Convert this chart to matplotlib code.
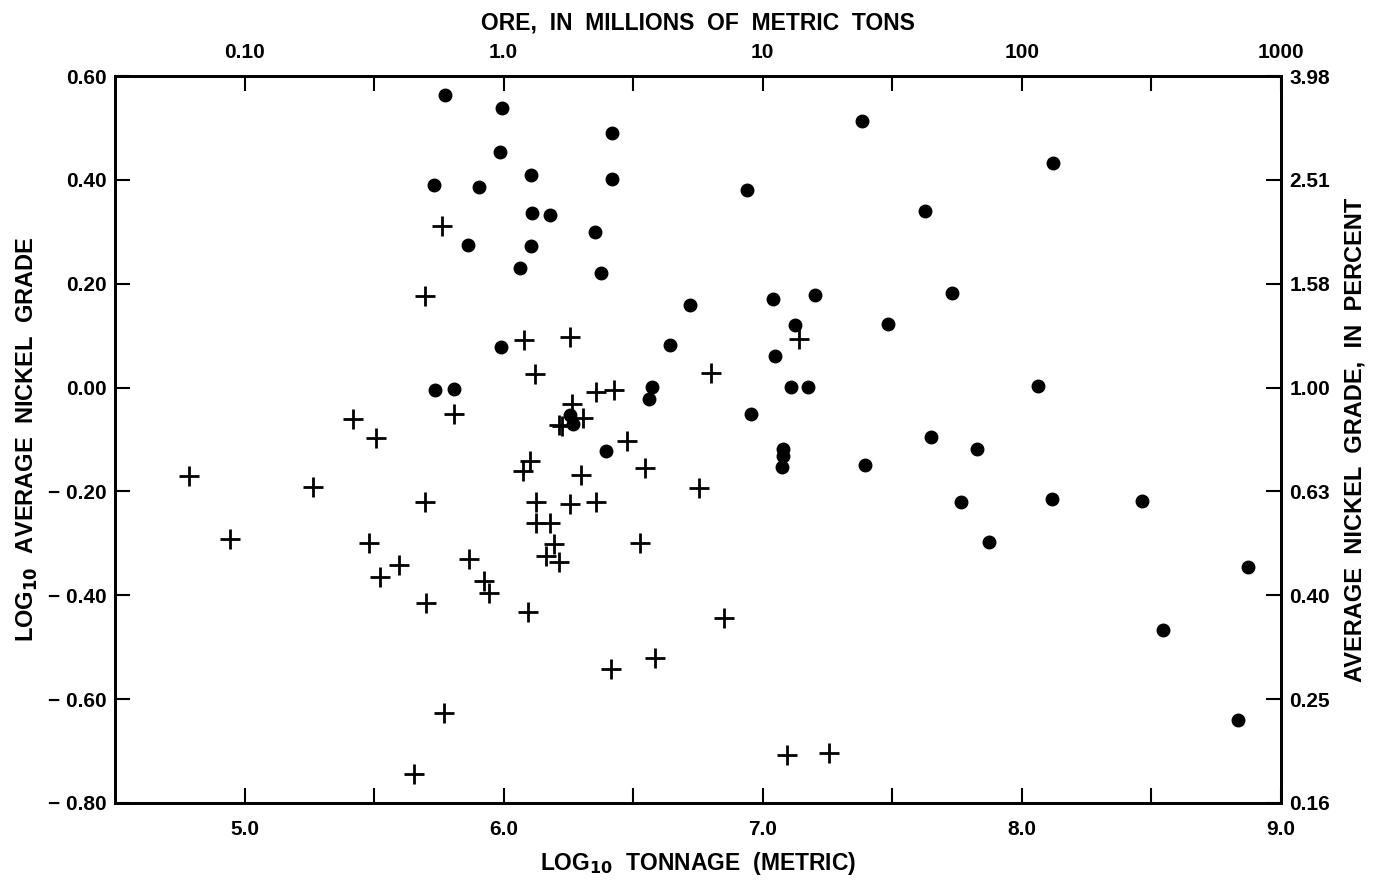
import numpy as np
import matplotlib
matplotlib.use("Agg")
import matplotlib.pyplot as plt
from matplotlib.ticker import FixedLocator, FixedFormatter

FONT = ["Liberation Sans Narrow", "Liberation Sans", "DejaVu Sans"]
plt.rcParams["font.family"] = FONT
plt.rcParams["font.weight"] = "bold"
plt.rcParams["mathtext.fontset"] = "custom"
plt.rcParams["mathtext.rm"] = "Liberation Sans Narrow:bold"
plt.rcParams["mathtext.default"] = "rm"

# deposits shown as dots (log10 tonnage, log10 grade)
dot_tonnage = [5.775, 5.995, 6.417, 5.987, 6.107, 6.417, 5.730, 5.905, 6.108, 6.180,
               6.353, 5.862, 6.107, 6.064, 6.377, 5.991, 5.736, 5.807, 6.258, 6.268,
               6.396, 6.719, 6.641, 6.571, 6.560, 7.040, 7.202, 7.124, 7.049, 7.110,
               7.176, 6.956, 7.079, 7.079, 7.075, 6.938, 7.385, 8.121, 7.626, 7.732,
               7.484, 8.062, 7.651, 7.826, 7.393, 7.767, 8.117, 7.873, 8.463, 8.873,
               8.544, 8.834]
dot_grade = [0.563, 0.539, 0.490, 0.453, 0.409, 0.402, 0.390, 0.387, 0.337, 0.333,
             0.299, 0.274, 0.273, 0.230, 0.220, 0.079, -0.004, -0.002, -0.053, -0.070,
             -0.122, 0.159, 0.082, 0.001, -0.021, 0.171, 0.179, 0.121, 0.060, 0.001,
             0.001, -0.051, -0.118, -0.131, -0.153, 0.381, 0.514, 0.432, 0.340, 0.182,
             0.123, 0.004, -0.096, -0.118, -0.149, -0.220, -0.215, -0.297, -0.218, -0.346,
             -0.467, -0.640]

# deposits shown as crosses
cross_tonnage = [5.761, 5.698, 6.078, 6.258, 6.122, 6.355, 6.426, 5.808, 6.264, 6.308,
                 6.214, 6.227, 6.478, 6.100, 6.074, 6.299, 5.698, 6.126, 6.258, 6.355,
                 6.126, 6.180, 6.544, 5.418, 5.508, 4.785, 5.263, 4.945, 5.480, 5.596,
                 5.524, 6.195, 6.164, 6.214, 6.525, 5.865, 5.923, 5.942, 5.701, 6.094,
                 6.584, 6.416, 5.770, 5.653, 7.140, 6.799, 6.754, 6.849, 7.094, 7.255]
cross_grade = [0.312, 0.177, 0.091, 0.098, 0.026, -0.008, -0.004, -0.051, -0.031, -0.059,
               -0.072, -0.074, -0.102, -0.141, -0.160, -0.168, -0.221, -0.220, -0.224, -0.221,
               -0.261, -0.261, -0.154, -0.060, -0.098, -0.171, -0.191, -0.291, -0.300, -0.342,
               -0.365, -0.302, -0.324, -0.335, -0.300, -0.331, -0.372, -0.395, -0.414, -0.433,
               -0.520, -0.542, -0.627, -0.744, 0.093, 0.029, -0.194, -0.443, -0.708, -0.704]

x_ticks = [5.0, 6.0, 7.0, 8.0, 9.0]
x_labels = ["5.0", "6.0", "7.0", "8.0", "9.0"]
x_minor = [5.5, 6.5, 7.5, 8.5]
top_labels = ["0.10", "1.0", "10", "100", "1000"]
y_ticks = [0.6, 0.4, 0.2, 0.0, -0.2, -0.4, -0.6, -0.8]
y_labels = ["0.60", "0.40", "0.20", "0.00", "\u2212 0.20", "\u2212 0.40", "\u2212 0.60", "\u2212 0.80"]
right_labels = ["3.98", "2.51", "1.58", "1.00", "0.63", "0.40", "0.25", "0.16"]

fig = plt.figure(figsize=(13.75, 8.85), dpi=100)
ax = fig.add_axes([0.0836, 0.0927, 0.848, 0.8213])

ax.plot(dot_tonnage, dot_grade, "o", color="black", ms=9, mec="black", ls="none")
ax.plot(cross_tonnage, cross_grade, "+", color="black", ms=14, mew=2.0, ls="none")

ax.set_xlim(4.5, 9.0)
ax.set_ylim(-0.8, 0.6)

tick_kw = dict(direction="in", length=11, width=1.5, labelsize=15, colors="black")
ax.xaxis.set_major_locator(FixedLocator(x_ticks))
ax.xaxis.set_major_formatter(FixedFormatter(x_labels))
ax.xaxis.set_minor_locator(FixedLocator(x_minor))
ax.yaxis.set_major_locator(FixedLocator(y_ticks))
ax.yaxis.set_major_formatter(FixedFormatter(y_labels))
ax.tick_params(axis="both", which="both", **tick_kw)
ax.tick_params(axis="x", which="both", pad=12)
ax.tick_params(axis="y", which="both", pad=6)
for lab in ax.get_xticklabels() + ax.get_yticklabels():
    lab.set_fontweight("bold")

for s in ax.spines.values():
    s.set_linewidth(1.8)

ax.set_xlabel("LOG$_{10}$  TONNAGE  (METRIC)", fontsize=16.5, fontweight="bold", labelpad=8)
ax.set_ylabel("LOG$_{10}$  AVERAGE  NICKEL  GRADE", fontsize=17, fontweight="bold", labelpad=6)

# top axis: ore in millions of metric tons
top = ax.twiny()
top.set_xlim(ax.get_xlim())
top.xaxis.set_major_locator(FixedLocator(x_ticks))
top.xaxis.set_major_formatter(FixedFormatter(top_labels))
top.xaxis.set_minor_locator(FixedLocator(x_minor))
top.tick_params(axis="x", which="both", pad=10, **tick_kw)
top.set_xlabel("ORE,  IN  MILLIONS  OF  METRIC  TONS", fontsize=16.5, fontweight="bold", labelpad=10)
for lab in top.get_xticklabels():
    lab.set_fontweight("bold")

# right axis: grade in percent
right = ax.twinx()
right.set_ylim(ax.get_ylim())
right.yaxis.set_major_locator(FixedLocator(y_ticks))
right.yaxis.set_major_formatter(FixedFormatter(right_labels))
right.tick_params(axis="y", which="both", pad=6, **tick_kw)
right.set_ylabel("AVERAGE  NICKEL  GRADE,  IN  PERCENT", fontsize=17, fontweight="bold",
                 rotation=90, labelpad=10)
for lab in right.get_yticklabels():
    lab.set_fontweight("bold")

for a in (top, right):
    for s in a.spines.values():
        s.set_linewidth(1.8)

fig.savefig("out.png", dpi=100)
